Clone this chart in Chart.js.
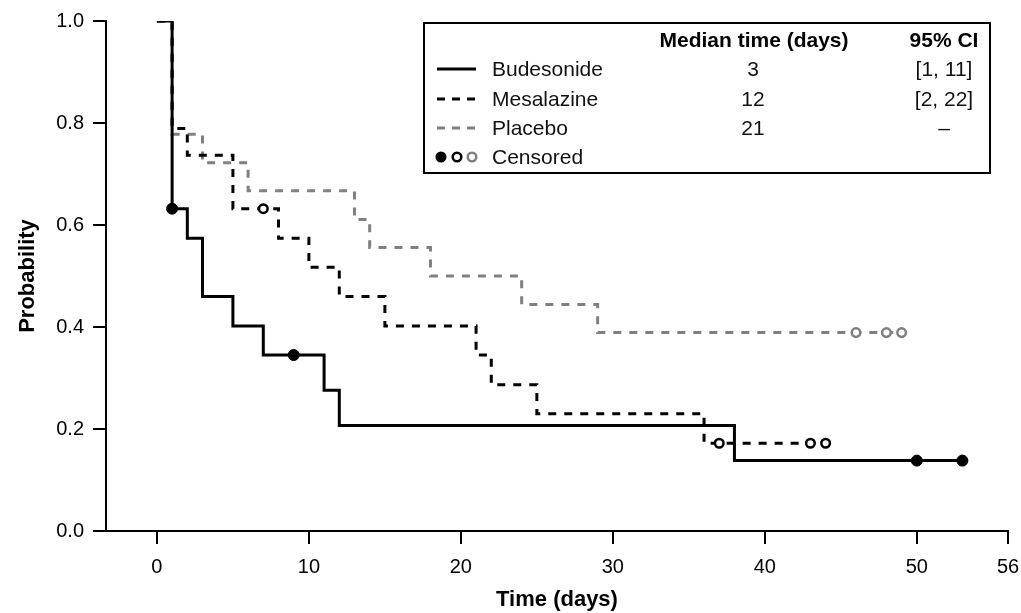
<!DOCTYPE html>
<html>
<head>
<meta charset="utf-8">
<title>Kaplan-Meier</title>
<script src="https://cdn.jsdelivr.net/npm/chart.js@4.4.1/dist/chart.umd.min.js"></script>
<style>
  html, body { margin: 0; padding: 0; background: #fff; }
  canvas { display: block; }
</style>
</head>
<body>
<canvas id="km" width="1021" height="613"></canvas>
<script>
// Survival steps (time in days, probability)
const budesonideTimes = [0, 1, 2, 3, 5, 7, 11, 12, 38, 53];
const budesonideSurv = [1, 0.632, 0.574, 0.46, 0.402, 0.345, 0.276, 0.207, 0.138, 0.138];
const budesonideCensTimes = [1, 9, 50, 53];
const budesonideCensSurv = [0.632, 0.345, 0.138, 0.138];

const mesalazineTimes = [0, 1, 2, 5, 8, 10, 12, 15, 21, 22, 25, 36, 44];
const mesalazineSurv = [1, 0.789, 0.737, 0.632, 0.574, 0.517, 0.46, 0.402, 0.345, 0.287, 0.23, 0.172, 0.172];
const mesalazineCensTimes = [7, 37, 43, 44];
const mesalazineCensSurv = [0.632, 0.172, 0.172, 0.172];

const placeboTimes = [0, 1, 3, 6, 13, 14, 18, 24, 29, 49];
const placeboSurv = [1, 0.778, 0.722, 0.667, 0.611, 0.556, 0.5, 0.444, 0.389, 0.389];
const placeboCensTimes = [46, 48, 49];
const placeboCensSurv = [0.389, 0.389, 0.389];

const xTicks = [0, 10, 20, 30, 40, 50, 56];

// Legend table
const groupNames = ['Budesonide', 'Mesalazine', 'Placebo'];
const medianTimes = ['3', '12', '21'];
const ciTexts = ['[1, 11]', '[2, 22]', '\u2013'];

const GRAY = '#808080';
const FONT = '"Liberation Sans", Arial, Helvetica, sans-serif';

function toPoints(xs, ys) {
  return xs.map((x, i) => ({ x: x, y: ys[i] }));
}

// Legend drawn as a small table in the top right
const legendTable = {
  id: 'legendTable',
  afterDraw(chart) {
    const ctx = chart.ctx;
    ctx.save();
    ctx.strokeStyle = '#000';
    ctx.lineWidth = 2;
    ctx.strokeRect(424, 23, 566, 150);

    ctx.fillStyle = '#000';
    ctx.textBaseline = 'middle';
    ctx.font = 'bold 21px ' + FONT;
    ctx.textAlign = 'center';
    ctx.fillText('Median time (days)', 754, 41);
    ctx.fillText('95% CI', 944, 41);

    const rowY = [69, 99, 128, 157];
    const lineStyles = [
      { color: '#000', dash: [] },
      { color: '#000', dash: [8, 7] },
      { color: GRAY, dash: [8, 7] }
    ];
    ctx.font = '21px ' + FONT;
    for (let i = 0; i < groupNames.length; i++) {
      ctx.beginPath();
      ctx.setLineDash(lineStyles[i].dash);
      ctx.strokeStyle = lineStyles[i].color;
      ctx.lineWidth = 3;
      ctx.moveTo(437, rowY[i]);
      ctx.lineTo(476, rowY[i]);
      ctx.stroke();
      ctx.setLineDash([]);

      ctx.fillStyle = '#111';
      ctx.textAlign = 'left';
      ctx.fillText(groupNames[i], 492, rowY[i] + 1);
      ctx.textAlign = 'center';
      ctx.fillText(medianTimes[i], 753, rowY[i] + 1);
      ctx.fillText(ciTexts[i], 944, rowY[i] + 1);
    }

    // censored markers
    const y4 = rowY[3];
    ctx.beginPath();
    ctx.fillStyle = '#000';
    ctx.arc(441, y4, 5.5, 0, Math.PI * 2);
    ctx.fill();
    [[457, '#000'], [472, GRAY]].forEach(m => {
      ctx.beginPath();
      ctx.fillStyle = '#fff';
      ctx.strokeStyle = m[1];
      ctx.lineWidth = 2.5;
      ctx.arc(m[0], y4, 4.3, 0, Math.PI * 2);
      ctx.fill();
      ctx.stroke();
    });
    ctx.fillStyle = '#111';
    ctx.textAlign = 'left';
    ctx.fillText('Censored', 492, y4 + 1);
    ctx.restore();
  }
};

const ctx = document.getElementById('km').getContext('2d');
new Chart(ctx, {
  type: 'scatter',
  data: {
    datasets: [
      {
        label: 'Budesonide censored',
        data: toPoints(budesonideCensTimes, budesonideCensSurv),
        showLine: false,
        pointRadius: 5.5,
        pointBackgroundColor: '#000',
        pointBorderColor: '#000',
        pointBorderWidth: 1,
        order: 0
      },
      {
        label: 'Mesalazine censored',
        data: toPoints(mesalazineCensTimes, mesalazineCensSurv),
        showLine: false,
        pointRadius: 4.3,
        pointBackgroundColor: '#fff',
        pointBorderColor: '#000',
        pointBorderWidth: 2.5,
        order: 0
      },
      {
        label: 'Placebo censored',
        data: toPoints(placeboCensTimes, placeboCensSurv),
        showLine: false,
        pointRadius: 4.3,
        pointBackgroundColor: '#fff',
        pointBorderColor: GRAY,
        pointBorderWidth: 2.5,
        order: 0
      },
      {
        label: 'Budesonide',
        data: toPoints(budesonideTimes, budesonideSurv),
        showLine: true,
        stepped: 'before',
        borderColor: '#000',
        borderWidth: 3,
        pointRadius: 0,
        order: 1
      },
      {
        label: 'Mesalazine',
        data: toPoints(mesalazineTimes, mesalazineSurv),
        showLine: true,
        stepped: 'before',
        borderColor: '#000',
        borderWidth: 3,
        borderDash: [8, 8],
        pointRadius: 0,
        order: 2
      },
      {
        label: 'Placebo',
        data: toPoints(placeboTimes, placeboSurv),
        showLine: true,
        stepped: 'before',
        borderColor: GRAY,
        borderWidth: 3,
        borderDash: [8, 8],
        pointRadius: 0,
        order: 3
      }
    ]
  },
  options: {
    responsive: false,
    animation: false,
    devicePixelRatio: 1,
    layout: { padding: { top: 21, right: 13, left: 0, bottom: 0 } },
    plugins: {
      legend: { display: false },
      tooltip: { enabled: false }
    },
    scales: {
      x: {
        type: 'linear',
        min: -3.35,
        max: 56,
        afterFit: function(scale) {
          scale.height = 82;
          scale.paddingLeft = 0;
          scale.paddingRight = 0;
        },
        afterBuildTicks: function(scale) {
          scale.ticks = xTicks.map(v => ({ value: v }));
        },
        grid: {
          drawOnChartArea: false,
          drawTicks: true,
          tickLength: 13,
          color: '#000',
          lineWidth: 2
        },
        border: { display: true, color: '#000', width: 2 },
        ticks: {
          color: '#000',
          padding: 11,
          autoSkip: false,
          maxRotation: 0,
          font: { family: FONT, size: 20 },
          callback: v => String(v)
        },
        title: {
          display: true,
          text: 'Time (days)',
          color: '#000',
          padding: { top: 0, bottom: 0 },
          font: { family: FONT, size: 22, weight: 'bold' }
        }
      },
      y: {
        min: 0,
        max: 1,
        afterFit: function(scale) {
          scale.width = 106;
          scale.paddingTop = 0;
          scale.paddingBottom = 0;
        },
        grid: {
          drawOnChartArea: false,
          drawTicks: true,
          tickLength: 13,
          color: '#000',
          lineWidth: 2
        },
        border: { display: true, color: '#000', width: 2 },
        ticks: {
          stepSize: 0.2,
          color: '#000',
          padding: 9,
          font: { family: FONT, size: 20 },
          callback: v => Number(v).toFixed(1)
        },
        title: {
          display: true,
          text: 'Probability',
          color: '#000',
          padding: { top: 15, bottom: 0 },
          font: { family: FONT, size: 22, weight: 'bold' }
        }
      }
    }
  },
  plugins: [legendTable]
});
</script>
</body>
</html>
